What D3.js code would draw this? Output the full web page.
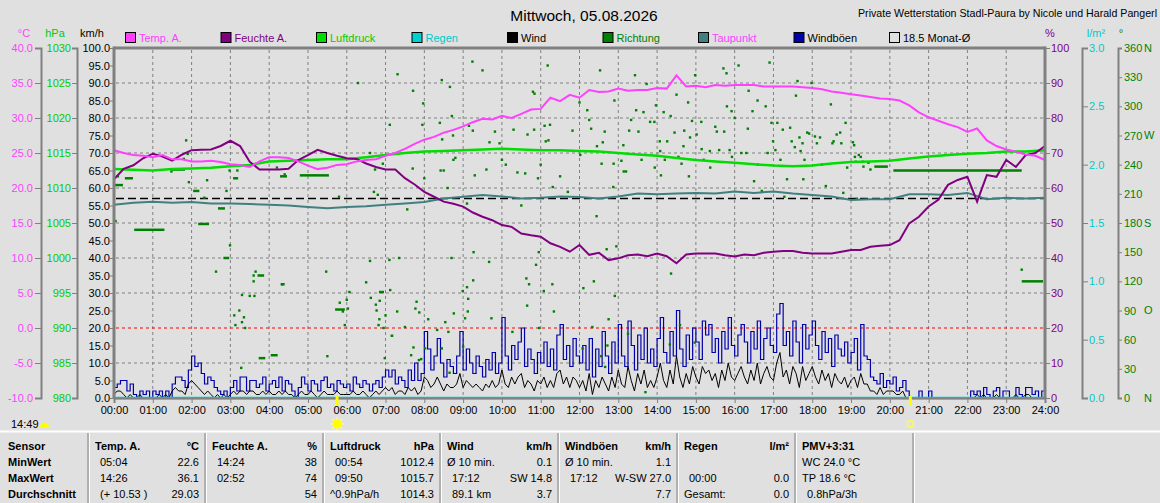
<!DOCTYPE html>
<html>
<head>
<meta charset="utf-8">
<script src="https://cdn.jsdelivr.net/npm/d3@7"></script>
<style>
  body { margin: 0; background: #e0e0e0; }
  svg { display: block; font-family: "Liberation Sans", Arial, sans-serif; }
</style>
</head>
<body>
<div id="chart"></div>
<script>
// ---- data ----
const dayTitle = "Mittwoch, 05.08.2026";
const stationTitle = "Private Wetterstation Stadl-Paura by Nicole und Harald Pangerl";
const legendNames = ["Temp. A.", "Feuchte A.", "Luftdruck", "Regen", "Wind", "Richtung", "Taupunkt", "Windböen", "18.5 Monat-Ø"];
const monthAvgTemp = 18.5;
const hourTicks = d3.range(0, 25);

// 15 min steps, 00:00 .. 24:00
const tempA = [
  25.4, 25.0, 24.7, 24.6, 24.4, 24.7, 24.1, 24.1, 23.8, 23.8, 23.9, 23.7,
  23.4, 23.3, 23.0, 23.8, 24.4, 24.4, 24.3, 23.8, 23.2, 22.7, 22.9, 23.3,
  23.4, 23.8, 24.0, 24.1, 24.6, 25.0, 25.6, 26.3, 26.9, 27.3, 27.9, 28.3,
  28.8, 29.4, 29.9, 29.8, 30.3, 30.0, 30.6, 31.2, 31.3, 32.9, 32.4, 33.3,
  32.9, 34.0, 33.7, 33.8, 34.2, 33.9, 34.0, 34.0, 34.3, 34.2, 36.1, 34.5,
  34.6, 34.4, 34.7, 34.6, 34.7, 34.7, 34.7, 34.5, 34.5, 34.5, 34.5, 34.4,
  34.3, 34.1, 33.8, 33.6, 33.4, 33.2, 33.0, 32.8, 32.7, 32.5, 31.8, 30.8,
  30.1, 29.6, 29.1, 28.7, 28.0, 28.5, 26.8, 26.0, 25.5, 25.2, 24.8, 24.6, 24.0
];
const humidity = [
  62.5, 65.5, 66.5, 68.5, 69.8, 69.0, 67.8, 69.5, 70.8, 70.9, 71.0, 72.0,
  73.5, 72.0, 67.5, 65.3, 65.3, 65.3, 65.5, 68.0, 69.4, 70.9, 70.0, 69.2,
  68.5, 68.3, 67.0, 66.0, 65.3, 65.3, 62.8, 61.0, 58.9, 57.5, 56.1, 55.5,
  54.7, 53.0, 51.8, 50.8, 49.4, 48.9, 47.0, 46.5, 46.1, 44.2, 43.2, 41.8,
  43.7, 40.9, 41.5, 39.4, 39.9, 40.8, 41.0, 40.5, 41.3, 40.5, 38.5, 41.0,
  41.3, 41.3, 41.3, 40.8, 40.4, 41.0, 40.8, 41.5, 41.8, 42.0, 42.0, 41.5,
  41.3, 41.3, 41.3, 41.8, 42.3, 42.3, 43.2, 43.5, 43.7, 45.1, 49.9, 51.8,
  54.7, 56.6, 60.9, 62.3, 63.2, 56.1, 63.7, 63.2, 68.0, 66.0, 69.4, 70.0, 72.0
];
// 30 min steps
const pressure = [
  1012.7, 1012.6, 1012.5, 1012.7, 1012.8, 1012.9, 1013.1, 1013.3, 1013.8, 1013.9,
  1014.0, 1014.1, 1014.1, 1014.4, 1014.7, 1015.0, 1015.2, 1015.3, 1015.4, 1015.5,
  1015.6, 1015.5, 1015.4, 1015.4, 1015.3, 1015.2, 1015.0, 1014.8, 1014.6, 1014.3,
  1014.0, 1013.8, 1013.6, 1013.4, 1013.2, 1013.1, 1013.2, 1013.5, 1013.7, 1013.8,
  1013.9, 1014.2, 1014.5, 1014.7, 1014.9, 1015.0, 1015.2, 1015.2, 1015.4
];
const dewPoint = [
  17.6, 17.9, 18.05, 17.9, 18.0, 17.8, 17.8, 17.7, 17.6, 17.5,
  17.3, 17.1, 17.3, 17.4, 17.6, 17.8, 18.0, 18.5, 18.75, 19.0,
  18.8, 18.5, 18.6, 18.8, 18.7, 18.5, 18.8, 19.2, 19.1, 19.2,
  19.3, 19.2, 19.5, 19.3, 19.5, 19.2, 19.0, 18.8, 18.3, 18.4,
  18.4, 19.1, 19.1, 19.0, 19.3, 18.4, 18.6, 18.5, 18.6
];
// hourly
const rain = [0, 0, 0, 0, 0, 0, 0, 0, 0, 0, 0, 0, 0, 0, 0, 0, 0, 0, 0, 0, 0, 0, 0, 0, 0];

// 5 min steps, km/h
const gusts = [
  3, 4, 5, 5, 2, 4, 1, 0, 2, 1, 2, 0,
  2, 1, 2, 0, 2, 0, 4, 6, 6, 5, 3, 8,
  12, 9, 10, 7, 4, 6, 5, 3, 2, 1, 2, 0,
  3, 5, 2, 6, 6, 2, 5, 5, 3, 4, 6, 2,
  4, 5, 3, 6, 2, 5, 4, 2, 0, 3, 6, 4,
  2, 5, 4, 2, 5, 6, 3, 4, 2, 5, 4, 3,
  4, 2, 6, 4, 3, 5, 4, 2, 4, 5, 3, 6,
  8, 6, 8, 4, 6, 5, 3, 8, 5, 10, 5, 7,
  19, 14, 8, 12, 17, 10, 6, 11, 9, 7, 12, 19,
  8, 14, 10, 7, 12, 9, 6, 11, 8, 13, 7, 10,
  23, 12, 8, 15, 11, 16, 20, 9, 14, 11, 7, 13,
  10, 16, 9, 14, 8, 18, 21, 11, 15, 9, 17, 12,
  10, 15, 8, 17, 6, 14, 9, 19, 12, 7, 16, 10,
  21, 12, 9, 22, 15, 8, 18, 11, 20, 10, 14, 9,
  17, 23, 13, 10, 19, 12, 25, 14, 9, 18, 11, 20,
  16, 11, 22, 18, 21, 13, 17, 10, 19, 14, 23, 15,
  12, 18, 21, 16, 10, 19, 14, 22, 11, 17, 20, 15,
  13, 24, 27, 15, 19, 12, 22, 16, 10, 21, 14, 18,
  22, 15, 11, 19, 13, 17, 9, 18, 14, 12, 16, 10,
  13, 17, 8, 21, 12, 11, 6, 5, 4, 7, 3, 5,
  4, 6, 2, 3, 5, 2, 0, 0, 0, 2, 0, 0,
  2, 0, 0, 0, 0, 0, 0, 0, 0, 0, 0, 0,
  0, 2, 1, 2, 0, 3, 1, 0, 2, 3, 0, 2,
  2, 0, 0, 3, 1, 0, 3, 3, 1, 2, 0, 2,
  1
];
const wind = [
  1, 2, 2, 1, 0, 1, 0, 0, 1, 0, 0, 0,
  0, 0, 1, 0, 1, 0, 2, 3, 2, 2, 1, 4,
  5, 4, 3, 2, 1, 2, 1, 0, 1, 0, 1, 0,
  1, 2, 1, 2, 2, 1, 2, 2, 1, 1, 2, 1,
  2, 1, 1, 2, 1, 2, 1, 1, 0, 1, 2, 1,
  1, 2, 1, 0, 1, 2, 1, 1, 1, 2, 1, 1,
  1, 1, 2, 1, 1, 2, 1, 0, 1, 2, 1, 2,
  3, 2, 3, 1, 2, 2, 1, 3, 2, 3, 1, 2,
  6, 5, 3, 4, 6, 4, 2, 4, 3, 3, 4, 7,
  3, 5, 4, 3, 4, 3, 2, 4, 3, 5, 3, 4,
  8, 4, 3, 6, 4, 6, 7, 3, 5, 4, 2, 5,
  4, 6, 3, 5, 3, 7, 8, 4, 6, 3, 6, 5,
  3, 5, 2, 7, 1, 5, 3, 6, 4, 2, 6, 3,
  8, 4, 3, 9, 5, 2, 7, 4, 8, 3, 5, 3,
  6, 10, 5, 3, 8, 4, 12, 6, 3, 7, 4, 9,
  6, 4, 9, 7, 8, 5, 7, 3, 8, 5, 10, 6,
  5, 7, 9, 6, 4, 8, 5, 10, 4, 7, 9, 6,
  5, 10, 13, 6, 8, 4, 9, 7, 3, 9, 5, 7,
  9, 6, 4, 8, 5, 7, 3, 7, 5, 4, 6, 3,
  5, 6, 3, 7, 4, 4, 2, 2, 1, 3, 1, 2,
  2, 2, 1, 1, 2, 0, 0, 0, 0, 0, 0, 0,
  0, 0, 0, 0, 0, 0, 0, 0, 0, 0, 0, 0,
  0, 0, 0, 1, 0, 1, 0, 0, 0, 1, 0, 0,
  0, 0, 0, 1, 0, 0, 1, 1, 0, 0, 0, 0,
  0
];

// wind direction samples [hour, degrees]
const dirDots = [
  [0.04,182],[0.1,228],[1.48,233],[1.8,246],[1.86,265],[1.9,251],[1.93,222],[2.33,206],[2.4,224],[2.63,130],
  [2.9,213],[2.98,234],[2.99,157],[3.1,85],[3.13,75],[3.18,234],[3.23,90],[3.28,31],[3.3,106],[3.3,78],
  [3.35,83],[3.38,72],[3.5,105],[3.6,120],[3.6,126],[3.62,105],[3.65,130],[4.2,237],[4.33,117],[4.4,230],
  [5.47,130],[5.5,43],[5.8,207],[5.82,98],[5.9,89],[5.95,75],[6.0,101],[6.03,92],[6.07,109],[6.29,324],
  [6.5,119],[6.6,141],[6.62,103],[6.6,252],[6.7,212],[6.73,235],[6.75,96],[6.77,90],[6.8,209],[6.82,75],
  [6.84,81],[6.85,100],[6.93,241],[6.95,72],[6.98,41],[7.0,85],[7.1,142],[7.12,111],[7.11,281],[7.3,89],
  [7.31,333],[7.35,144],[7.5,73],[7.56,194],[7.66,44],[7.71,316],[7.7,236],[7.72,52],[7.77,92],[7.8,99],
  [7.86,39],[7.87,88],[7.92,40],[7.95,281],[7.97,303],[8.0,226],[8.02,51],[8.1,81],[8.33,70],[8.4,283],
  [8.42,234],[8.45,327],[8.46,266],[8.45,51],[8.5,234],[8.54,78],[8.6,216],[8.62,68],[8.65,26],[8.66,320],
  [8.7,144],[8.71,290],[8.74,270],[8.75,245],[8.76,87],[8.8,247],[9.0,53],[8.99,110],[9.1,200],[9.1,114],
  [9.13,102],[9.12,89],[9.05,82],[9.15,280],[9.24,346],[9.25,275],[9.26,121],[9.27,150],[9.3,229],[9.5,337],
  [9.6,235],[9.67,140],[9.68,263],[9.73,82],[9.82,274],[9.94,262],[10.0,245],[10.1,240],[10.27,68],[10.3,276],
  [10.4,232],[10.5,198],[10.6,231],[10.63,123],[10.65,95],[10.66,271],[10.7,117],[10.8,315],[10.83,276],[10.84,313],
  [10.88,137],[10.93,226],[10.95,150],[10.96,72],[11.0,240],[11.08,110],[11.1,280],[11.13,264],[11.18,342],[11.2,265],
  [11.24,281],[11.3,117],[11.31,217],[11.34,89],[11.5,228],[11.7,212],[11.82,275],[12.0,304],[12.02,250],
  [12.08,51],[12.1,113],[12.2,296],[12.25,286],[12.3,277],[12.33,73],[12.37,120],[12.44,187],[12.45,259],[12.53,337],
  [12.56,43],[12.57,241],[12.6,263],[12.65,274],[12.66,32],[12.7,153],[12.72,54],[12.75,81],[12.87,217],[12.88,241],
  [12.9,306],[12.91,105],[12.95,156],[13.08,244],[13.14,233],[13.2,233],[13.13,260],[13.25,66],[13.28,275],[13.33,286],
  [13.43,332],[13.46,296],[13.52,274],[13.6,245],[13.65,294],[13.7,6],[13.73,323],[13.82,284],[13.93,284],[13.94,237],
  [13.97,301],[14.07,264],[14.08,254],[14.1,229],[14.17,294],[14.2,245],[14.26,264],[14.33,55],[14.35,290],[14.36,128],
  [14.45,273],[14.5,312],[14.55,248],[14.59,75],[14.63,241],[14.68,259],[14.7,275],[14.8,304],[14.82,228],[14.85,268],
  [14.9,285],[14.97,57],[14.98,332],[15.02,271],[15.14,284],[15.15,256],[15.2,245],[15.36,254],[15.37,237],[15.5,279],
  [15.54,274],[15.6,255],[15.71,339],[15.73,274],[15.79,334],[15.8,300],[15.87,255],[15.92,295],[15.93,248],[16.0,288],
  [16.1,342],[16.17,252],[16.3,252],[16.34,277],[16.36,316],[16.46,295],[16.5,223],[16.59,306],[16.6,240],[16.7,213],
  [16.8,300],[16.85,252],[16.9,345],[16.95,283],[16.99,264],[17.05,255],[17.1,283],[17.18,245],[17.24,276],[17.28,207],
  [17.35,225],[17.43,278],[17.47,264],[17.55,258],[17.58,311],[17.62,326],[17.67,268],[17.7,254],[17.75,262],[17.77,225],
  [17.8,245],[17.87,273],[17.92,272],[17.98,324],[18.07,269],[18.12,262],[18.2,268],[18.25,240],[18.35,218],[18.48,302],
  [18.52,262],[18.55,264],[18.63,271],[18.72,273],[18.75,262],[18.8,211],[18.86,283],[18.9,237],[19.05,263],[19.08,260],
  [19.1,248],[19.12,243],[19.15,205],[19.2,250],[19.25,248],[19.3,243],[19.32,238],[19.45,242],[19.5,235],[23.4,132]
];
// calm periods: direction held [from hour, to hour, degrees]
const dirHold = [
  [0.0, 0.23, 219], [0.28, 0.49, 226], [0.52, 1.3, 173], [1.5, 1.83, 235], [2.04, 2.2, 213],
  [2.17, 2.45, 179], [2.68, 2.86, 195], [2.82, 2.97, 144], [3.07, 3.2, 226], [3.7, 3.87, 126],
  [3.73, 3.9, 41], [4.04, 4.22, 44], [4.28, 4.46, 228], [4.3, 4.4, 117], [4.79, 5.54, 229],
  [5.7, 5.95, 91], [6.83, 6.96, 109], [7.13, 7.2, 64], [19.6, 19.95, 238], [20.09, 23.4, 234],
  [23.4, 23.95, 120]
];

const sunRise = 5.75, sunSet = 20.53;
const nowLabel = "14:49";

// statistics table
const tableHeads = ["Sensor", "Temp. A.", "Feuchte A.", "Luftdruck", "Wind", "Windböen", "Regen", "PMV+3:31"];
const tableUnits = ["", "°C", "%", "hPa", "km/h", "km/h", "l/m²", ""];
const rowLabels = ["MinWert", "MaxWert", "Durchschnitt"];
const tableLeft = [
  ["05:04", "14:26", "(+ 10.53 )"],
  ["14:24", "02:52", ""],
  ["00:54", "09:50", "^0.9hPa/h"],
  ["Ø 10 min.", "17:12", "89.1 km"],
  ["Ø 10 min.", "17:12", ""],
  ["", "00:00", "Gesamt:"],
  ["WC 24.0 °C", "TP 18.6 °C", "0.8hPa/3h"]
];
const tableRight = [
  ["22.6", "36.1", "29.03"],
  ["38", "74", "54"],
  ["1012.4", "1015.7", "1014.3"],
  ["0.1", "SW 14.8", "3.7"],
  ["1.1", "W-SW 27.0", "7.7"],
  ["", "0.0", "0.0"],
  ["", "", ""]
];
const compass = [[0, "N"], [90, "O"], [180, "S"], [270, "W"], [360, "N"]];

// ---- layout ----
const W = 1160, H = 503;
const plot = {left: 114, right: 1045, top: 48, bottom: 398};
const colSep = [88, 205, 323, 440, 558, 677, 795, 913];
const grey = "#808080";
const colors = {
  temp: "#ff40ff", hum: "#800080", press: "#00dd00", rain: "#00cccc",
  wind: "#000000", dir: "#008000", dew: "#408080", gust: "#0000aa"
};
const legendBox = ["#ff40ff", "#800080", "#00dd00", "#00d0d0", "#000000", "#008000", "#408080", "#0000aa", "none"];
const legendText = ["#ff40ff", "#800080", "#00cc00", "#00c8c8", "#000000", "#008000", "#ff40ff", "#000000", "#000000"];

const svg = d3.select("#chart").append("svg")
  .attr("width", W).attr("height", H);

svg.append("rect").attr("width", W).attr("height", H).attr("fill", "#e0e0e0");

const x = d3.scaleLinear().domain([0, 24]).range([plot.left, plot.right]);
const yKmh = d3.scaleLinear().domain([0, 100]).range([plot.bottom, plot.top]);
const yTemp = d3.scaleLinear().domain([-10, 40]).range([plot.bottom, plot.top]);
const yHpa = d3.scaleLinear().domain([980, 1030]).range([plot.bottom, plot.top]);
const yPct = d3.scaleLinear().domain([0, 100]).range([plot.bottom, plot.top]);
const yRain = d3.scaleLinear().domain([0, 3]).range([plot.bottom, plot.top]);
const yDir = d3.scaleLinear().domain([0, 360]).range([plot.bottom, plot.top]);

// titles
svg.append("text").attr("x", 584).attr("y", 21).attr("text-anchor", "middle")
  .style("font-size", "15.5px").text(dayTitle);
svg.append("text").attr("x", 1157).attr("y", 17).attr("text-anchor", "end")
  .attr("textLength", 299).attr("lengthAdjust", "spacingAndGlyphs")
  .style("font-size", "10.5px").text(stationTitle);

// legend
const leg = svg.append("g").style("font-size", "11px");
legendNames.forEach((name, i) => {
  const lx = 125 + i * 95.5;
  leg.append("rect").attr("x", lx + 0.5).attr("y", 32.5).attr("width", 10).attr("height", 10)
    .attr("fill", legendBox[i] === "none" ? "#e0e0e0" : legendBox[i]).attr("stroke", "#000");
  leg.append("text").attr("x", lx + 14).attr("y", 42).attr("fill", legendText[i]).text(name);
});

// unit labels
const units = [[24, "°C", colors.temp], [55, "hPa", "#00cc00"], [92, "km/h", "#000"],
               [1050, "%", colors.hum], [1096, "l/m²", "#00c8c8"], [1121, "°", colors.dir]];
units.forEach(u => svg.append("text").attr("x", u[0]).attr("y", 37)
  .attr("text-anchor", "middle").attr("fill", u[2]).style("font-size", "11px").text(u[1]));

// grid
const grid = svg.append("g");
hourTicks.slice(1, 24).forEach(h => grid.append("line")
  .attr("x1", x(h)).attr("x2", x(h)).attr("y1", plot.top + 2).attr("y2", plot.bottom)
  .attr("stroke", grey).attr("stroke-dasharray", "3,3"));
d3.range(10, 100, 10).forEach(v => grid.append("line")
  .attr("x1", plot.left + 2).attr("x2", plot.right).attr("y1", yKmh(v)).attr("y2", yKmh(v))
  .attr("stroke", v === 20 ? "#ff0000" : grey).attr("stroke-dasharray", "3,3"));

// monthly average temperature
svg.append("line").attr("x1", plot.left + 2).attr("x2", plot.right)
  .attr("y1", yTemp(monthAvgTemp)).attr("y2", yTemp(monthAvgTemp))
  .attr("stroke", "#000").attr("stroke-width", 1.3).attr("stroke-dasharray", "8,4");

// series
function drawLine(values, step, yScale, color, width, curve) {
  const line = d3.line()
    .x((d, i) => x(i * step))
    .y(d => yScale(d))
    .curve(curve || d3.curveLinear);
  svg.append("path").datum(values)
    .attr("fill", "none").attr("stroke", color).attr("stroke-width", width)
    .attr("d", line);
}

drawLine(gusts, 5 / 60, yKmh, colors.gust, 1.2, d3.curveStepAfter);
drawLine(wind, 5 / 60, yKmh, colors.wind, 1);
drawLine(rain, 1, yRain, colors.rain, 2.5);

svg.append("g").selectAll("line").data(dirHold).join("line")
  .attr("x1", d => x(d[0])).attr("x2", d => x(d[1]))
  .attr("y1", d => yDir(d[2])).attr("y2", d => yDir(d[2]))
  .attr("stroke", colors.dir).attr("stroke-width", 2.5);
svg.append("g").selectAll("rect").data(dirDots).join("rect")
  .attr("x", d => x(d[0]) - 1.2).attr("y", d => yDir(d[1]) - 1.2)
  .attr("width", 2.4).attr("height", 2.4).attr("fill", colors.dir);

drawLine(dewPoint, 0.5, yTemp, colors.dew, 2);
drawLine(pressure, 0.5, yHpa, colors.press, 2.5);
drawLine(humidity, 0.25, yPct, colors.hum, 2);
drawLine(tempA, 0.25, yTemp, colors.temp, 2);

// frame
const frame = svg.append("g").attr("stroke", grey).attr("stroke-width", 3);
frame.append("line").attr("x1", plot.left).attr("x2", plot.left).attr("y1", plot.top - 1.5).attr("y2", plot.bottom);
frame.append("line").attr("x1", plot.right).attr("x2", plot.right).attr("y1", plot.top - 1.5).attr("y2", plot.bottom);
frame.append("line").attr("x1", plot.left).attr("x2", plot.right).attr("y1", plot.top).attr("y2", plot.top);

// axes
function styleAxis(g, color, keepDomain) {
  g.selectAll("text").attr("fill", color).style("font-size", "11px")
    .style("font-family", "Liberation Sans, Arial, sans-serif");
  g.selectAll("line").attr("stroke", grey);
  g.select(".domain").attr("stroke", grey).attr("stroke-width", 2);
  if (!keepDomain) g.select(".domain").remove();
}

svg.append("g").attr("transform", "translate(41,0)")
  .call(d3.axisLeft(yTemp).tickValues(d3.range(-10, 41, 5)).tickFormat(d => d.toFixed(1)).tickSize(6).tickPadding(2))
  .call(g => styleAxis(g, colors.temp, true));
svg.append("g").attr("transform", "translate(77,0)")
  .call(d3.axisLeft(yHpa).tickValues(d3.range(980, 1031, 5)).tickFormat(d => d).tickSize(5).tickPadding(1))
  .call(g => styleAxis(g, "#00cc00", true));
svg.append("g").attr("transform", `translate(${plot.left},0)`)
  .call(d3.axisLeft(yKmh).tickValues(d3.range(0, 101, 5)).tickFormat(d => d.toFixed(1)).tickSize(4).tickPadding(0))
  .call(g => styleAxis(g, "#000", false));
svg.append("g").attr("transform", `translate(${plot.right},0)`)
  .call(d3.axisRight(yPct).tickValues(d3.range(0, 101, 10)).tickFormat(d => d).tickSize(5).tickPadding(1))
  .call(g => styleAxis(g, colors.hum, false));
svg.append("g").attr("transform", "translate(1082,0)")
  .call(d3.axisRight(yRain).tickValues(d3.range(0, 3.01, 0.5)).tickFormat(d => d.toFixed(1)).tickSize(6).tickPadding(1))
  .call(g => styleAxis(g, "#00c8c8", true));
svg.append("g").attr("transform", "translate(1118,0)")
  .call(d3.axisRight(yDir).tickValues(d3.range(0, 361, 30)).tickFormat(d => d).tickSize(4).tickPadding(2))
  .call(g => styleAxis(g, colors.dir, true));
compass.forEach(c => svg.append("text").attr("x", 1144).attr("y", yDir(c[0])).attr("dy", "0.35em")
  .attr("fill", colors.dir).style("font-size", "11px").text(c[1]));

svg.append("g").attr("transform", `translate(0,${plot.bottom})`)
  .call(d3.axisBottom(x).tickValues(hourTicks).tickFormat(h => String(h).padStart(2, "0") + ":00").tickSize(5).tickPadding(3))
  .call(g => styleAxis(g, "#000", true));

// sunrise / sunset
[sunRise, sunSet].forEach(t => svg.append("line")
  .attr("x1", x(t)).attr("x2", x(t)).attr("y1", plot.bottom - 2).attr("y2", plot.bottom + 8)
  .attr("stroke", "#ffff00").attr("stroke-width", 3));
const sr = svg.append("g").attr("transform", `translate(${x(sunRise)},424)`);
d3.range(8).forEach(k => {
  const a = k * Math.PI / 4;
  sr.append("line").attr("x1", Math.cos(a) * 4).attr("y1", Math.sin(a) * 4)
    .attr("x2", Math.cos(a) * 6.5).attr("y2", Math.sin(a) * 6.5).attr("stroke", "#ffff80").attr("stroke-width", 1.5);
});
sr.append("circle").attr("r", 4.5).attr("fill", "#ffff00");
svg.append("rect").attr("x", x(sunSet) - 3).attr("y", 421).attr("width", 6).attr("height", 6)
  .attr("rx", 2).attr("fill", "none").attr("stroke", "#ffff40").attr("stroke-width", 1.5);

svg.append("text").attr("x", 11).attr("y", 428).style("font-size", "11px").text(nowLabel);
svg.append("path").attr("d", "M40,427 A4.5,4.5 0 0 1 49,427 Z").attr("fill", "#ffff00");

// table
svg.append("line").attr("x1", 0).attr("x2", W).attr("y1", 431.5).attr("y2", 431.5)
  .attr("stroke", "#ffffff").attr("stroke-width", 2);
colSep.forEach(cx => {
  svg.append("line").attr("x1", cx).attr("x2", cx).attr("y1", 433).attr("y2", H).attr("stroke", "#a0a0a0").attr("stroke-width", 1.5);
  svg.append("line").attr("x1", cx + 1.5).attr("x2", cx + 1.5).attr("y1", 433).attr("y2", H).attr("stroke", "#ffffff").attr("stroke-width", 1);
});
const rowY = [450, 466, 482, 498];
const tbl = svg.append("g").style("font-size", "11px");
tableHeads.forEach((hd, c) => {
  const x0 = c === 0 ? 8 : colSep[c - 1] + 7;
  tbl.append("text").attr("x", x0).attr("y", rowY[0]).style("font-weight", "bold").text(hd);
  if (tableUnits[c]) tbl.append("text").attr("x", colSep[c] - 6).attr("y", rowY[0])
    .attr("text-anchor", "end").style("font-weight", "bold").text(tableUnits[c]);
});
rowLabels.forEach((r, i) => tbl.append("text").attr("x", 8).attr("y", rowY[i + 1])
  .style("font-weight", "bold").text(r));
tableLeft.forEach((col, c) => {
  const x0 = colSep[c] + 7;
  col.forEach((s, i) => {
    const indent = /^[\d(]/.test(s) ? 5 : 0;
    tbl.append("text").attr("x", x0 + indent).attr("y", rowY[i + 1]).text(s);
  });
  tableRight[c].forEach((s, i) => {
    tbl.append("text").attr("x", colSep[c + 1] - 6).attr("y", rowY[i + 1]).attr("text-anchor", "end").text(s);
  });
});
</script>
</body>
</html>
